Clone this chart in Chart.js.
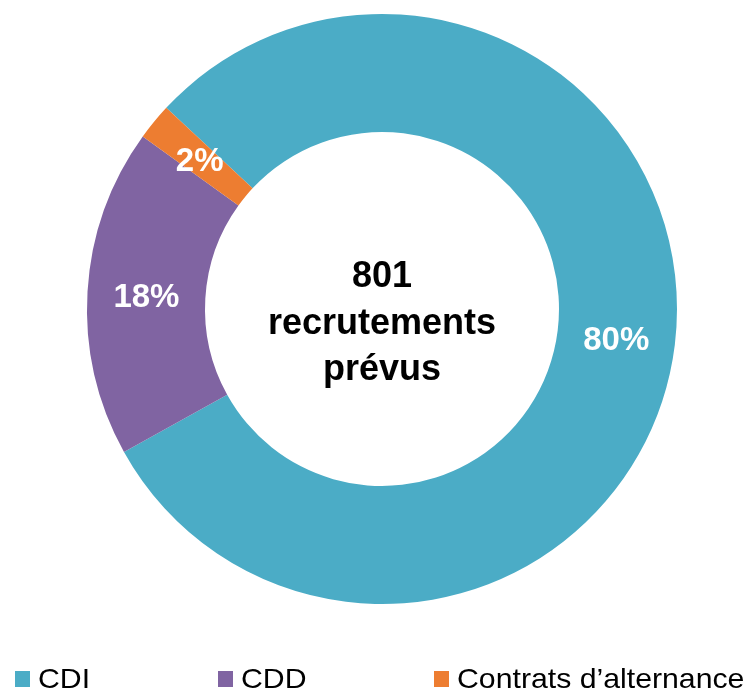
<!DOCTYPE html>
<html lang="fr">
<head>
<meta charset="utf-8">
<script src="https://cdn.jsdelivr.net/npm/chart.js@4.4.1/dist/chart.umd.min.js"></script>
<style>
  html, body { margin: 0; padding: 0; background: #fff; }
  #wrap { position: relative; width: 756px; height: 690px; overflow: hidden; }
  #chart-canvas { position: absolute; left: 0; top: 0; }
  #legend { position: absolute; left: 0; top: 0; width: 756px; height: 690px; pointer-events: none; }
  .lg-item { position: absolute; top: 664px; height: 32px; white-space: nowrap; }
  .lg-box { position: absolute; left: 0; top: 7px; width: 15px; height: 16px; }
  .lg-txt { position: absolute; left: 23px; top: 0; font: 28px "Liberation Sans", Arial, sans-serif; color: #000;
            transform: scaleX(1.08); transform-origin: left center; line-height: 30px; }
</style>
</head>
<body>
<div id="wrap">
  <canvas id="chart-canvas" width="756" height="690"></canvas>
  <div id="legend"></div>
</div>
<script>
const categories = ['CDI', 'CDD', 'Contrats d\u2019alternance'];
const shares = [80, 18, 2];
const colors = ['#4BACC6', '#8064A2', '#ED7D31'];
const centerLines = ['801', 'recrutements', 'pr\u00e9vus'];
const legendLeft = [15, 218, 434];

// étiquettes en % au milieu de chaque part
const sliceLabels = {
    id: 'sliceLabels',
    afterDatasetsDraw(chart) {
        const ctx = chart.ctx; const meta = chart.getDatasetMeta(0);
        ctx.save();
        ctx.fillStyle = '#fff'; ctx.font = 'bold 33px "Liberation Sans", Arial, sans-serif';
        ctx.textAlign = 'center'; ctx.textBaseline = 'middle';
        meta.data.forEach((arc, i) => {
            const p = arc.tooltipPosition();
            ctx.fillText(shares[i] + '%', p.x, p.y + 3);
        });
        ctx.restore();
    }
};

// texte central
const centerText = {
    id: 'centerText',
    afterDraw(chart) {
        const ctx = chart.ctx; const arc = chart.getDatasetMeta(0).data[0]; if(!arc) return;
        const cx = arc.x, cy = arc.y, lh = 46.5;
        ctx.save();
        ctx.fillStyle = '#000'; ctx.font = 'bold 36px "Liberation Sans", Arial, sans-serif';
        ctx.textAlign = 'center'; ctx.textBaseline = 'alphabetic';
        centerLines.forEach((t, i) => ctx.fillText(t, cx, cy - 22 + i * lh));
        ctx.restore();
    }
};

const ctx = document.getElementById('chart-canvas').getContext('2d');
window.theChart = new Chart(ctx, {
    type: 'doughnut',
    data: { labels: categories, datasets: [{ data: shares, backgroundColor: colors, borderWidth: 0 }] },
    options: {
        responsive: false, animation: false, rotation: -47, cutout: '60%',
        layout: { padding: { top: 14, bottom: 86, left: 87, right: 79 } },
        plugins: { legend: { display: false }, tooltip: { enabled: false } }
    },
    plugins: [sliceLabels, centerText]
});

const lg = document.getElementById('legend');
categories.forEach((c, i) => {
    lg.innerHTML += '<div class="lg-item" style="left:' + legendLeft[i] + 'px"><div class="lg-box" style="background:' + colors[i] + '"></div><div class="lg-txt">' + c + '</div></div>';
});
</script>
</body>
</html>
